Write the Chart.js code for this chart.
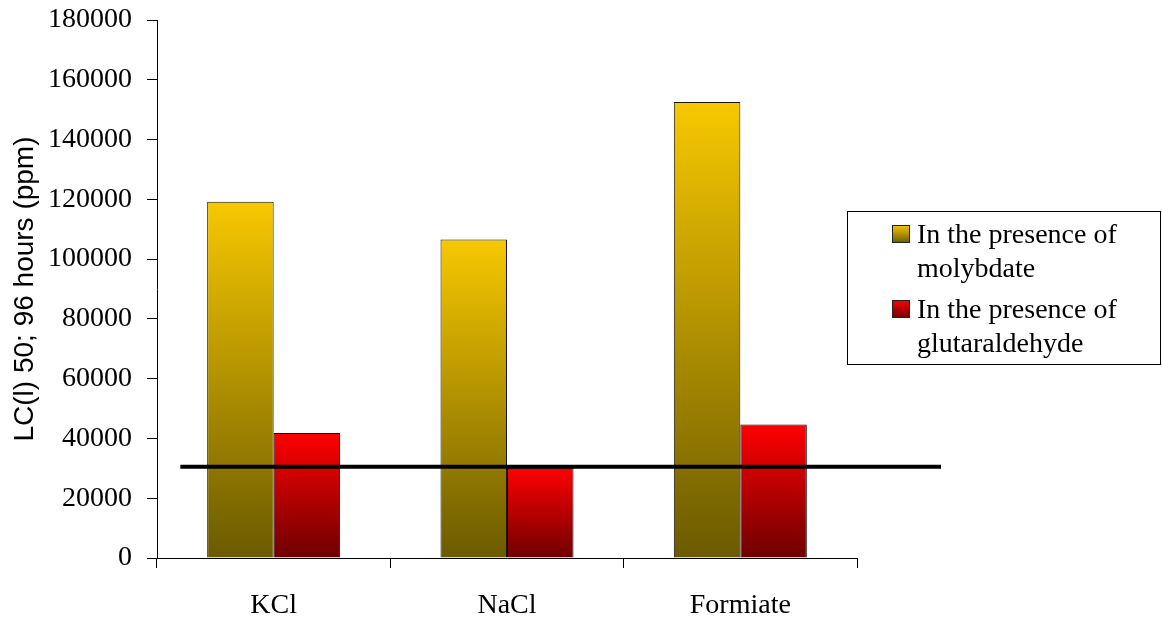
<!DOCTYPE html>
<html>
<head>
<meta charset="utf-8">
<script src="https://cdn.jsdelivr.net/npm/chart.js@4"></script>
<style>
  html, body { margin: 0; padding: 0; background: #fff; }
  #wrap { width: 1162px; height: 619px; }
</style>
</head>
<body>
<div id="wrap"><canvas id="canvas"></canvas></div>
<script>
const categories = ['KCl', 'NaCl', 'Formiate'];
const molybdateValues = [119200, 106600, 152600];
const glutaraldehydeValues = [41800, 30200, 44700];
const seriesNames = [
  ['In the presence of', 'molybdate'],
  ['In the presence of', 'glutaraldehyde']
];
const yMin = 0;
const yMax = 180000;
const yStep = 20000;
const thresholdValue = 30500;
const yTitle = 'LC(l) 50; 96 hours (ppm)';

// top / bottom colours of the bar gradients
const seriesColors = [
  ['#f7c800', '#6b5a00'],
  ['#ff0000', '#6e0000']
];

function barGradient(index) {
  return function(context) {
    const chart = context.chart;
    const yScale = chart.scales.y;
    if (!chart.chartArea || !yScale || context.raw === undefined) {
      return seriesColors[index][0];
    }
    const top = yScale.getPixelForValue(context.raw);
    const bottom = yScale.getPixelForValue(0);
    const g = chart.ctx.createLinearGradient(0, top, 0, bottom);
    g.addColorStop(0, seriesColors[index][0]);
    g.addColorStop(1, seriesColors[index][1]);
    return g;
  };
}

// the thick black threshold line, runs past the last category
const thresholdLine = {
  id: 'thresholdLine',
  afterDatasetsDraw(chart) {
    const ctx = chart.ctx;
    const x = chart.scales.x;
    const y = chart.scales.y.getPixelForValue(thresholdValue);
    ctx.save();
    ctx.strokeStyle = '#000';
    ctx.lineWidth = 4;
    ctx.beginPath();
    ctx.moveTo(x.getPixelForValue(-0.4), y);
    ctx.lineTo(x.getPixelForValue(2.86), y);
    ctx.stroke();
    ctx.restore();
  }
};

// boxed legend with two-line labels
const boxLegend = {
  id: 'boxLegend',
  afterDraw(chart) {
    const ctx = chart.ctx;
    ctx.save();
    ctx.strokeStyle = '#000';
    ctx.lineWidth = 1;
    ctx.strokeRect(847.5, 211.5, 313, 153);
    ctx.font = '28px "Liberation Serif", "Times New Roman", serif';
    ctx.fillStyle = '#000';
    ctx.textBaseline = 'alphabetic';
    chart.data.datasets.forEach(function(ds, i) {
      const top = 225 + i * 75;
      const g = ctx.createLinearGradient(0, top, 0, top + 18);
      g.addColorStop(0, seriesColors[i][0]);
      g.addColorStop(1, seriesColors[i][1]);
      ctx.fillStyle = g;
      ctx.fillRect(892, top, 18, 18);
      ctx.strokeStyle = '#222';
      ctx.strokeRect(892.5, top + 0.5, 17, 17);
      ctx.fillStyle = '#000';
      ds.label.forEach(function(line, j) {
        ctx.fillText(line, 917, top + 18 + j * 34);
      });
    });
    ctx.restore();
  }
};

const canvas = document.getElementById('canvas');
const myChart = new Chart(canvas, {
  type: 'bar',
  data: {
    labels: categories,
    datasets: [{
      label: seriesNames[0],
      data: molybdateValues,
      backgroundColor: barGradient(0),
      borderColor: '#1a1608',
      borderWidth: 1
    }, {
      label: seriesNames[1],
      data: glutaraldehydeValues,
      backgroundColor: barGradient(1),
      borderColor: '#1a0505',
      borderWidth: 1
    }]
  },
  plugins: [thresholdLine, boxLegend],
  options: {
    responsive: true,
    maintainAspectRatio: false,
    animation: false,
    layout: { padding: { left: 0, top: 20, right: 305, bottom: 0 } },
    plugins: {
      legend: { display: false },
      tooltip: { enabled: false }
    },
    datasets: {
      bar: { barPercentage: 1, categoryPercentage: 0.57 }
    },
    scales: {
      x: {
        grid: { drawOnChartArea: false, drawTicks: true, tickLength: 10, color: '#000' },
        border: { display: true, color: '#000', width: 1 },
        ticks: {
          color: '#000',
          padding: 21,
          font: { family: 'Liberation Serif', size: 28 }
        },
        afterFit: function(scale) { scale.height = 61; }
      },
      y: {
        min: yMin,
        max: yMax,
        grid: { drawOnChartArea: false, drawTicks: true, tickLength: 10, color: '#000' },
        border: { display: true, color: '#000', width: 1 },
        ticks: {
          stepSize: yStep,
          color: '#000',
          padding: 15,
          font: { family: 'Liberation Serif', size: 28 },
          callback: function(value) { return String(value); }
        },
        title: {
          display: true,
          text: yTitle,
          color: '#000',
          padding: { top: 8, bottom: 0 },
          font: { family: 'Liberation Sans', size: 28 }
        },
        afterFit: function(scale) {
          scale.width = 157;
          scale.paddingTop = 0;
          scale.paddingBottom = 0;
        }
      }
    }
  }
});
</script>
</body>
</html>
